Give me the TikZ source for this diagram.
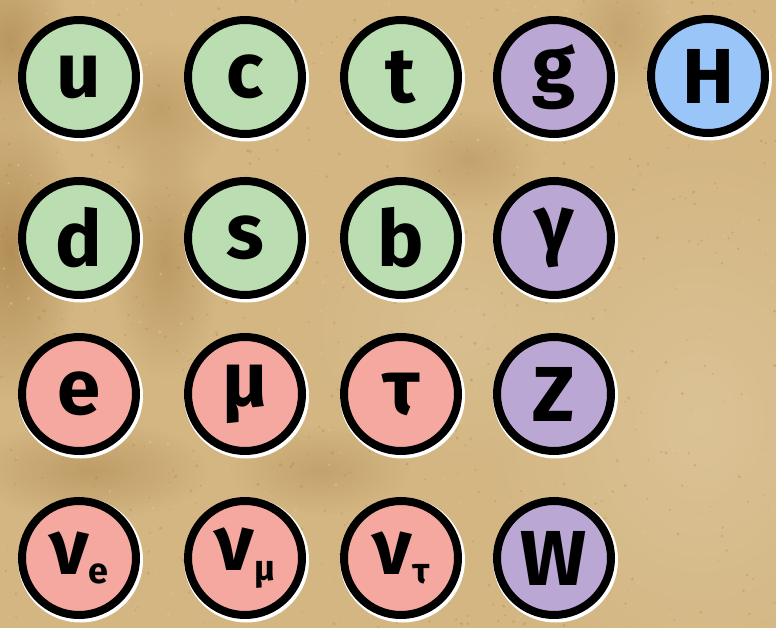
\documentclass[tikz,border=0pt]{standalone}
\usepackage{fontspec}
\setmainfont{Fira Sans}
\usetikzlibrary{fadings}
\definecolor{bg}{HTML}{D3B682}
\definecolor{bgdark}{HTML}{A57E45}
\definecolor{bglight}{HTML}{DFC89E}
\definecolor{qgreen}{HTML}{BADEB1}
\definecolor{bpurple}{HTML}{BBA7D3}
\definecolor{lred}{HTML}{F4A8A0}
\definecolor{hblue}{HTML}{99C5F9}
\tikzfading[name=softblob, inner color=transparent!0, outer color=transparent!100]
\tikzset{
  ptcl/.style={circle, draw=black, line width=8pt, minimum size=114pt, inner sep=0pt,
    font=\fontsize{78}{78}\selectfont\bfseries},
  halo/.style={fill=white},
  blotch/.style={path fading=softblob, fit fading=true},
}
\newcommand\ptc[5]{%
  \fill[halo] (#2+1.5,#3+2) circle (62.5pt);
  \node[ptcl, fill=#4] (#1) at (#2,#3) {#5};}
\newcommand\nusub[1]{ν\raisebox{-0.12em}{\fontsize{36}{36}\selectfont #1}}
\begin{document}
\begin{tikzpicture}[x=1pt,y=-1pt]
\useasboundingbox (0,0) rectangle (776,628);
% paper background
\fill[bg] (0,0) rectangle (776,628);
\fill[bglight, opacity=0.7, blotch] (700,420) ellipse (220pt and 280pt);
\fill[bglight, opacity=0.5, blotch] (460,330) ellipse (160pt and 140pt);
\fill[bgdark, opacity=0.7, blotch] (10,250) ellipse (70pt and 150pt);
\fill[bgdark, opacity=0.55, blotch] (10,40) ellipse (60pt and 90pt);
\fill[bgdark, opacity=0.5, blotch] (165,260) ellipse (55pt and 120pt);
\fill[bgdark, opacity=0.4, blotch] (160,110) ellipse (70pt and 70pt);
\fill[bgdark, opacity=0.45, blotch] (90,470) ellipse (120pt and 50pt);
\fill[bgdark, opacity=0.35, blotch] (320,470) ellipse (90pt and 45pt);
\fill[bgdark, opacity=0.35, blotch] (470,160) ellipse (70pt and 50pt);
\fill[bgdark, opacity=0.3, blotch] (620,30) ellipse (50pt and 70pt);
\pgfmathsetseed{7}
\foreach \i in {1,...,700}{
  \pgfmathsetmacro\px{rnd*776}
  \pgfmathsetmacro\py{rnd*628}
  \pgfmathsetmacro\pr{0.5+rnd*1.3}
  \fill[bgdark, opacity=0.3] (\px,\py) circle (\pr pt);
}
\foreach \i in {1,...,400}{
  \pgfmathsetmacro\px{rnd*776}
  \pgfmathsetmacro\py{rnd*628}
  \pgfmathsetmacro\pr{0.5+rnd*1.2}
  \fill[bglight, opacity=0.5] (\px,\py) circle (\pr pt);
}
% particles
\ptc{u}{79}{77}{qgreen}{u}
\ptc{c}{245}{77}{qgreen}{c}
\ptc{t}{401}{77}{qgreen}{t}
\ptc{g}{554}{77}{bpurple}{g}
\ptc{H}{708}{76}{hblue}{H}
\ptc{d}{79}{238}{qgreen}{d}
\ptc{s}{245}{238}{qgreen}{s}
\ptc{b}{401}{238}{qgreen}{b}
\ptc{gamma}{554}{238}{bpurple}{γ}
\ptc{e}{79}{394}{lred}{e}
\ptc{mu}{245}{394}{lred}{μ}
\ptc{tau}{401}{394}{lred}{τ}
\ptc{Z}{554}{394}{bpurple}{Z}
\ptc{nue}{79}{558}{lred}{\nusub{e}}
\ptc{numu}{245}{558}{lred}{\nusub{μ}}
\ptc{nutau}{401}{558}{lred}{\nusub{τ}}
\ptc{W}{554}{558}{bpurple}{W}
\end{tikzpicture}
\end{document}
